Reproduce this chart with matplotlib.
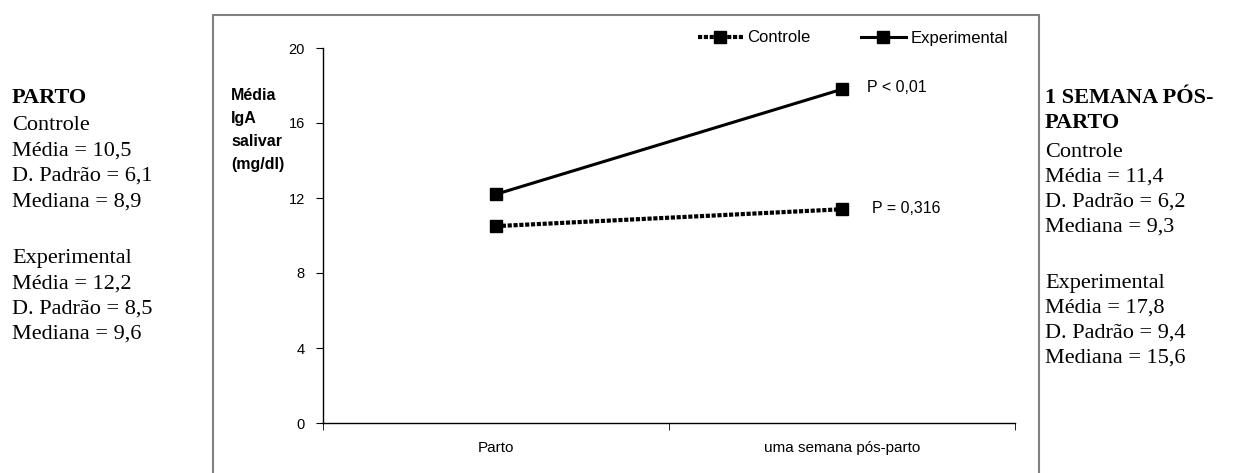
import matplotlib
matplotlib.use('Agg')
import matplotlib.pyplot as plt
from matplotlib.patches import Rectangle

# data
categories = ['Parto', 'uma semana pós-parto']
controle = [10.5, 11.4]
experimental = [12.2, 17.8]
y_ticks = [0, 4, 8, 12, 16, 20]
p_labels = ['P < 0,01', 'P = 0,316']

left_title = ['PARTO']
left_text = ['Controle', 'Média = 10,5', 'D. Padrão = 6,1', 'Mediana = 8,9',
             'Experimental', 'Média = 12,2', 'D. Padrão = 8,5', 'Mediana = 9,6']
right_title = ['1 SEMANA PÓS-', 'PARTO']
right_text = ['Controle', 'Média = 11,4', 'D. Padrão = 6,2', 'Mediana = 9,3',
              'Experimental', 'Média = 17,8', 'D. Padrão = 9,4', 'Mediana = 15,6']

W, H = 1243, 473
fig = plt.figure(figsize=(W / 100, H / 100), dpi=100)

def fx(px):
    return px / W

def fy(py):
    return 1 - py / H

# outer frame
fig.patches.append(Rectangle((fx(213), fy(480)), fx(1039) - fx(213), fy(15) - fy(480),
                             transform=fig.transFigure, fill=False,
                             edgecolor='#808080', linewidth=1.5))

ax = fig.add_axes([fx(323), fy(423), fx(1015) - fx(323), fy(48) - fy(423)])
x = list(range(len(categories)))

ax.plot(x, controle, color='black', linewidth=3.0, linestyle=(0, (1.0, 0.4)),
        marker='s', markersize=8, label='Controle')
ax.plot(x, experimental, color='black', linewidth=2.2,
        marker='s', markersize=8, label='Experimental')

ax.set_xlim(-0.5, 1.5)
ax.set_ylim(0, 20)
ax.set_yticks(y_ticks)
ax.set_yticklabels([str(v) for v in y_ticks], fontsize=10.5, family='Liberation Sans')
ax.set_xticks(x)
ax.set_xticklabels(categories, fontsize=11, family='Liberation Sans')
ax.set_xticks([-0.5, 0.5, 1.5], minor=True)
ax.tick_params(axis='x', which='major', length=0, pad=13)
ax.tick_params(axis='x', which='minor', length=5, direction='out')
ax.tick_params(axis='y', length=5, direction='out', pad=8)
for s in ['top', 'right']:
    ax.spines[s].set_visible(False)
for s in ['left', 'bottom']:
    ax.spines[s].set_linewidth(1.0)

# p-values
ax.annotate(p_labels[0], (x[1], experimental[1]), xytext=(25, 2), textcoords='offset pixels',
            fontsize=11.5, family='Liberation Sans', va='center', ha='left')
ax.annotate(p_labels[1], (x[1], controle[1]), xytext=(30, 1), textcoords='offset pixels',
            fontsize=11.5, family='Liberation Sans', va='center', ha='left')

# y label
for i, line in enumerate(['Média', 'IgA', 'salivar', '(mg/dl)']):
    fig.text(fx(231), fy(100 + 23 * i), line, fontsize=11.5, fontweight='bold',
             family='Liberation Sans', va='baseline', ha='left')

ax.legend(loc='center', bbox_to_anchor=(fx(853), fy(38)), bbox_transform=fig.transFigure,
          ncol=2, frameon=False, prop={'family': 'Liberation Sans', 'size': 12},
          handlelength=2.7, columnspacing=3.0, handletextpad=0.3)

# side texts
fs = 16
left_base = [130, 156, 181, 207, 263, 289, 314, 339]
right_base = [157, 182, 207, 232, 288, 313, 338, 363]

fig.text(fx(12), fy(103), left_title[0], fontsize=fs, fontweight='bold',
         family='Liberation Serif', va='baseline', ha='left')
for line, b in zip(left_text, left_base):
    fig.text(fx(12), fy(b), line, fontsize=fs, family='Liberation Serif',
             va='baseline', ha='left')

for line, b in zip(right_title, [103, 128]):
    fig.text(fx(1045), fy(b), line, fontsize=fs, fontweight='bold',
             family='Liberation Serif', va='baseline', ha='left')
for line, b in zip(right_text, right_base):
    fig.text(fx(1045), fy(b), line, fontsize=fs, family='Liberation Serif',
             va='baseline', ha='left')

fig.savefig('out.png', dpi=100)
